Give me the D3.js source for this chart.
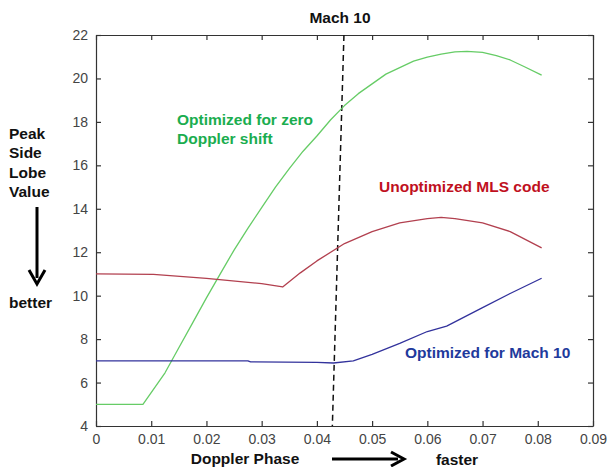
<!DOCTYPE html>
<html>
<head>
<meta charset="utf-8">
<script src="https://cdn.jsdelivr.net/npm/d3@7"></script>
<style>
  body { margin: 0; background: #fff; }
  svg { font-family: Arial, "Liberation Sans", sans-serif; }
</style>
</head>
<body>
<div id="chart"></div>
<script>
// curvas (x = fase Doppler, y = valor do lóbulo lateral)
const zeroDopplerX = [0, 0.0085, 0.0125, 0.015, 0.0175, 0.02, 0.0225, 0.025, 0.0275, 0.03, 0.0325, 0.035, 0.0375, 0.04, 0.0425, 0.045, 0.0475, 0.05, 0.0525, 0.055, 0.0575, 0.06, 0.0625, 0.065, 0.0672, 0.07, 0.0725, 0.075, 0.0775, 0.0807];
const zeroDopplerY = [5.0, 5.0, 6.45, 7.6, 8.75, 9.9, 11.0, 12.1, 13.1, 14.05, 15.0, 15.85, 16.65, 17.35, 18.1, 18.75, 19.3, 19.75, 20.2, 20.5, 20.8, 20.98, 21.12, 21.22, 21.25, 21.2, 21.05, 20.85, 20.55, 20.15];

const mlsX = [0, 0.0104, 0.02, 0.03, 0.0338, 0.037, 0.04, 0.045, 0.05, 0.055, 0.06, 0.0625, 0.065, 0.07, 0.075, 0.0807];
const mlsY = [11.0, 10.98, 10.8, 10.55, 10.4, 11.05, 11.6, 12.4, 12.95, 13.35, 13.55, 13.6, 13.55, 13.35, 12.95, 12.2];

const mach10X = [0, 0.0275, 0.028, 0.04, 0.043, 0.0466, 0.05, 0.055, 0.06, 0.0635, 0.07, 0.075, 0.0807];
const mach10Y = [7.0, 7.0, 6.95, 6.93, 6.9, 7.0, 7.3, 7.8, 8.35, 8.6, 9.45, 10.1, 10.8];

// linha tracejada "Mach 10" (ligeiramente inclinada na figura)
const machLineX = [0.0449, 0.0428];
const machLineY = [22, 4];

const xTicks = [0, 0.01, 0.02, 0.03, 0.04, 0.05, 0.06, 0.07, 0.08, 0.09];
const yTicks = [4, 6, 8, 10, 12, 14, 16, 18, 20, 22];

const width = 608, height = 467;
const margin = { left: 96, right: 15, top: 35, bottom: 41 };

const svg = d3.select("#chart").append("svg")
  .attr("width", width)
  .attr("height", height);

const x = d3.scaleLinear().domain([0, 0.09]).range([margin.left, width - margin.right]);
const y = d3.scaleLinear().domain([4, 22]).range([height - margin.bottom, margin.top]);

const axisColor = "#333";
const tickFmt = d => d === 0 ? "0" : d3.format(".2~f")(d);

// eixos estilo matlab: caixa com ticks para dentro
const gx = svg.append("g")
  .attr("transform", `translate(0,${y(4)})`)
  .call(d3.axisBottom(x).tickValues(xTicks).tickFormat(tickFmt).tickSizeInner(-5).tickSizeOuter(0).tickPadding(8));
const gxTop = svg.append("g")
  .attr("transform", `translate(0,${y(22)})`)
  .call(d3.axisTop(x).tickValues(xTicks).tickFormat("").tickSizeInner(-5).tickSizeOuter(0));
const gy = svg.append("g")
  .attr("transform", `translate(${x(0)},0)`)
  .call(d3.axisLeft(y).tickValues(yTicks).tickSizeInner(-5).tickSizeOuter(0).tickPadding(8));
const gyRight = svg.append("g")
  .attr("transform", `translate(${x(0.09)},0)`)
  .call(d3.axisRight(y).tickValues(yTicks).tickFormat("").tickSizeInner(-5).tickSizeOuter(0));

[gx, gxTop, gy, gyRight].forEach(g => {
  g.select(".domain").attr("stroke", axisColor).attr("stroke-width", 1.2);
  g.selectAll(".tick line").attr("stroke", axisColor).attr("stroke-width", 1.2);
  g.selectAll(".tick text")
    .attr("fill", "#444")
    .attr("font-size", 14)
    .attr("font-family", "Arial, 'Liberation Sans', sans-serif");
});

const line = d3.line().x(d => x(d[0])).y(d => y(d[1]));
const zip = (xs, ys) => xs.map((v, i) => [v, ys[i]]);

svg.append("path")
  .datum(zip(machLineX, machLineY))
  .attr("d", line)
  .attr("fill", "none")
  .attr("stroke", "#111")
  .attr("stroke-width", 1.5)
  .attr("stroke-dasharray", "6,4");

const series = [
  { xs: zeroDopplerX, ys: zeroDopplerY, color: "#66cc66" },
  { xs: mlsX, ys: mlsY, color: "#b2404f" },
  { xs: mach10X, ys: mach10Y, color: "#32329c" }
];

series.forEach(s => {
  svg.append("path")
    .datum(zip(s.xs, s.ys))
    .attr("d", line)
    .attr("fill", "none")
    .attr("stroke", s.color)
    .attr("stroke-width", 1.3)
    .attr("stroke-linejoin", "round");
});

// textos
const bold = (t, px, py, color, anchor) => svg.append("text")
  .attr("x", px).attr("y", py)
  .attr("fill", color || "#111")
  .attr("font-size", 15.5)
  .attr("font-weight", "bold")
  .attr("text-anchor", anchor || "start")
  .text(t);

bold("Mach 10", 340, 23, "#111", "middle");
bold("Optimized for zero", 177, 125, "#1aad4f");
bold("Doppler shift", 177, 144, "#1aad4f");
bold("Unoptimized MLS code", 379, 192, "#c0101e");
bold("Optimized for Mach 10", 405, 358, "#1f3a9c");

["Peak", "Side", "Lobe", "Value"].forEach((t, i) => bold(t, 9, 139 + i * 19.3));
bold("better", 9, 308);
bold("Doppler Phase", 245, 464, "#111", "middle");
bold("faster", 457, 465, "#111", "middle");

// setas
svg.append("line")
  .attr("x1", 37).attr("y1", 207).attr("x2", 37).attr("y2", 278)
  .attr("stroke", "#000").attr("stroke-width", 3);
svg.append("path")
  .attr("d", "M29,270 L37,284 L45,270")
  .attr("fill", "none").attr("stroke", "#000").attr("stroke-width", 3);

svg.append("line")
  .attr("x1", 332).attr("y1", 459).attr("x2", 398).attr("y2", 459)
  .attr("stroke", "#000").attr("stroke-width", 3);
svg.append("path")
  .attr("d", "M391,452 L404,459 L391,466")
  .attr("fill", "none").attr("stroke", "#000").attr("stroke-width", 3);
</script>
</body>
</html>
